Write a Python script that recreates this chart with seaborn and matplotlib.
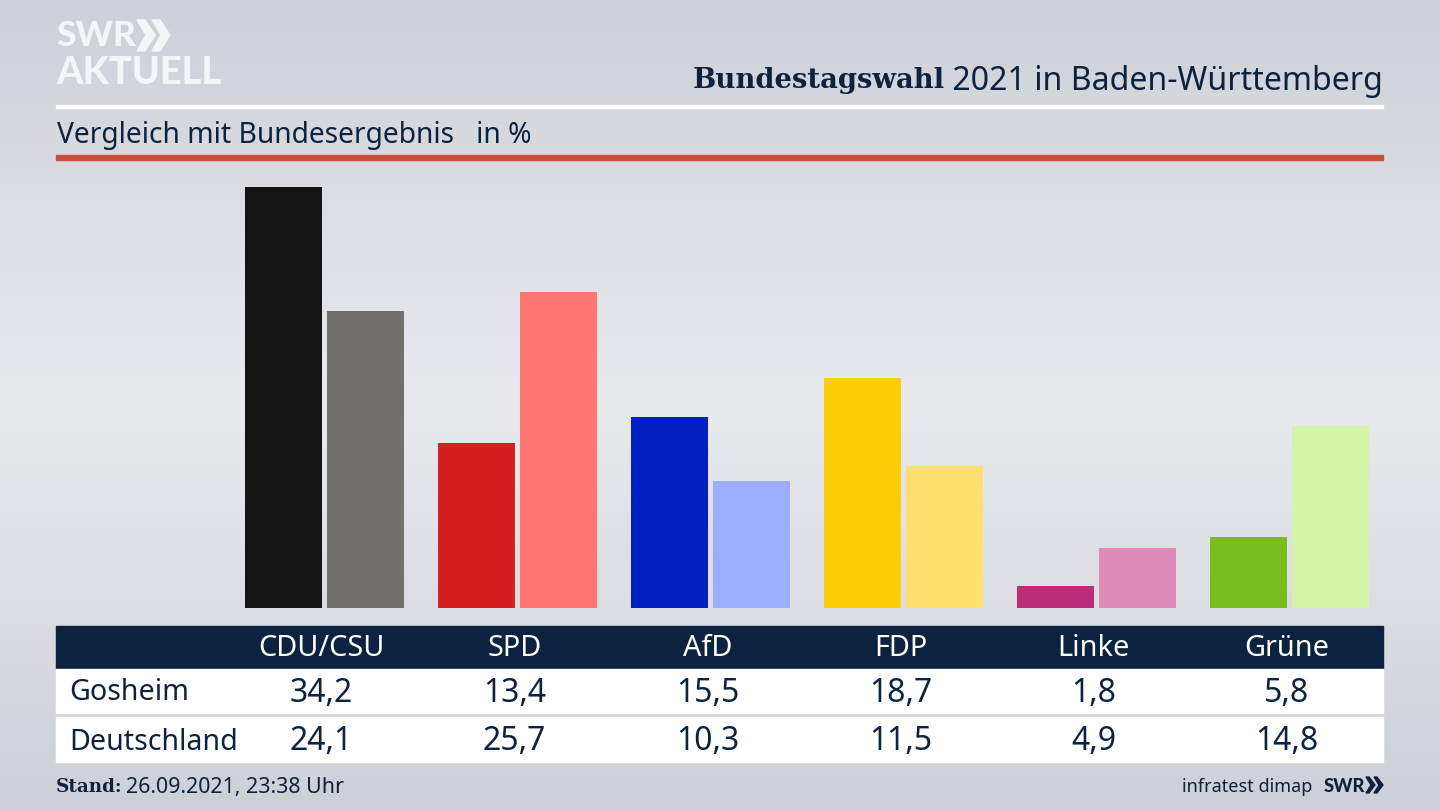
import numpy as np
import pandas as pd
import matplotlib.pyplot as plt
from matplotlib.patches import Rectangle, Polygon
import seaborn as sns

parties = ["CDU/CSU", "SPD", "AfD", "FDP", "Linke", "Grüne"]
gosheim = [34.2, 13.4, 15.5, 18.7, 1.8, 5.8]
deutschland = [24.1, 25.7, 10.3, 11.5, 4.9, 14.8]
colors_gosheim = ["#141414", "#d71f1f", "#0020c4", "#ffcc0a", "#bb2d76", "#78bd1e"]
colors_deutschland = ["#72706c", "#ff7570", "#9eaeff", "#ffdf70", "#e08ab8", "#d2f5a8"]

NAVY = "#0c2340"
LOGO = "#f4f5f7"
W, H = 1440, 810

sns.set_theme(style="white")
plt.rcParams['font.family'] = ['Noto Sans', 'DejaVu Sans']

fig = plt.figure(figsize=(W / 100, H / 100), dpi=100)

# full figure layer in pixel coordinates, background and table go here
bg = fig.add_axes([0, 0, 1, 1], zorder=0)
bg.set_xlim(0, W)
bg.set_ylim(H, 0)
bg.axis("off")
grad = np.interp(np.arange(H), [0, 400, H], [0.0, 1.0, 0.0]).reshape(-1, 1)
top, mid = np.array([205, 208, 215]) / 255, np.array([233, 234, 238]) / 255
img = top[None, None, :] + grad[:, :, None] * (mid - top)[None, None, :]
bg.imshow(img, extent=[0, W, H, 0], aspect="auto", zorder=0)

# bars
left, right, base, px_per_unit = 56, 1384, 608, 12.31
ax = fig.add_axes([left / W, 1 - base / H, (right - left) / W, 440 / H], zorder=1)
df = pd.DataFrame({
    "Partei": parties * 2,
    "Gebiet": ["Gosheim"] * 6 + ["Deutschland"] * 6,
    "Wert": gosheim + deutschland,
})
sns.barplot(data=df, x="Partei", y="Wert", hue="Gebiet", width=0.85, gap=0.06,
            saturation=1, legend=False, ax=ax)
for cont, cols in zip(ax.containers, [colors_gosheim, colors_deutschland]):
    for bar, col in zip(cont, cols):
        bar.set_facecolor(col)
        bar.set_edgecolor("none")
ax.set_xlim((left - 324.5) / 193, (right - 324.5) / 193)
ax.set_ylim(0, 440 / px_per_unit)
ax.axis("off")
ax.patch.set_alpha(0)

# header
bg.add_patch(Rectangle((56, 104.5), 1327, 3, color="white", zorder=2))
bg.add_patch(Rectangle((56, 155), 1327, 5, color="#c94f3d", zorder=2))
title = bg.text(1383, 81, " 2021 in Baden-Württemberg", ha="right", va="center",
                fontsize=23.1, color=NAVY, zorder=3)
bg.text(945, 80, "Bundestagswahl", ha="right", va="center",
        fontsize=19.8, fontweight="bold", family="DejaVu Serif", color=NAVY, zorder=3)
bg.text(57, 135, "Vergleich mit Bundesergebnis   in %", ha="left", va="center",
        fontsize=20.3, color=NAVY, zorder=3)

# logo
bg.text(56, 36, "SWR", ha="left", va="center", fontsize=25.5, fontweight="black",
        family="Lato", color=LOGO, zorder=3)
bg.text(56, 73, "AKTUELL", ha="left", va="center", fontsize=27.3, fontweight="black",
        family="Lato", color=LOGO, zorder=3)
for x0 in (137, 152):
    bg.add_patch(Polygon([(x0, 20), (x0 + 8, 20), (x0 + 18, 35), (x0 + 8, 51), (x0, 51), (x0 + 9, 35)],
                         color=LOGO, zorder=3))

# table
bg.add_patch(Rectangle((56, 626), 1327, 42, color=NAVY, zorder=2))
bg.add_patch(Rectangle((56, 669), 1327, 44, color="white", zorder=2))
bg.add_patch(Rectangle((56, 717), 1327, 45, color="white", zorder=2))
bg.text(69, 693, "Gosheim", ha="left", va="center", fontsize=20.6, color=NAVY, zorder=3)
bg.text(69, 742, "Deutschland", ha="left", va="center", fontsize=20.6, color=NAVY, zorder=3)
for i, party in enumerate(parties):
    xc = 321.5 + 193 * i
    bg.text(xc, 649, party, ha="center", va="center", fontsize=20.8, color="white", zorder=3)
    bg.text(xc, 693, f"{gosheim[i]:.1f}".replace(".", ","), ha="center", va="center",
            fontsize=23, color=NAVY, zorder=3)
    bg.text(xc, 742, f"{deutschland[i]:.1f}".replace(".", ","), ha="center", va="center",
            fontsize=23, color=NAVY, zorder=3)

# footer
bg.text(56, 787, "Stand:", ha="left", va="center", fontsize=13.2, fontweight="bold",
        family="DejaVu Serif", color=NAVY, zorder=3)
bg.text(126, 787, "26.09.2021, 23:38 Uhr", ha="left", va="center",
        fontsize=15.4, color=NAVY, zorder=3)
bg.text(1312, 787, "infratest dimap", ha="right", va="center", fontsize=13, color=NAVY, zorder=3)
bg.text(1324, 786, "SWR", ha="left", va="center", fontsize=13.2, fontweight="black",
        family="Lato", color=NAVY, zorder=3)
for x0 in (1366, 1374):
    bg.add_patch(Polygon([(x0, 777), (x0 + 3, 777), (x0 + 9, 785), (x0 + 3, 793), (x0, 793), (x0 + 5, 785)],
                         color=NAVY, zorder=3))

fig.savefig("out.png", dpi=100)
